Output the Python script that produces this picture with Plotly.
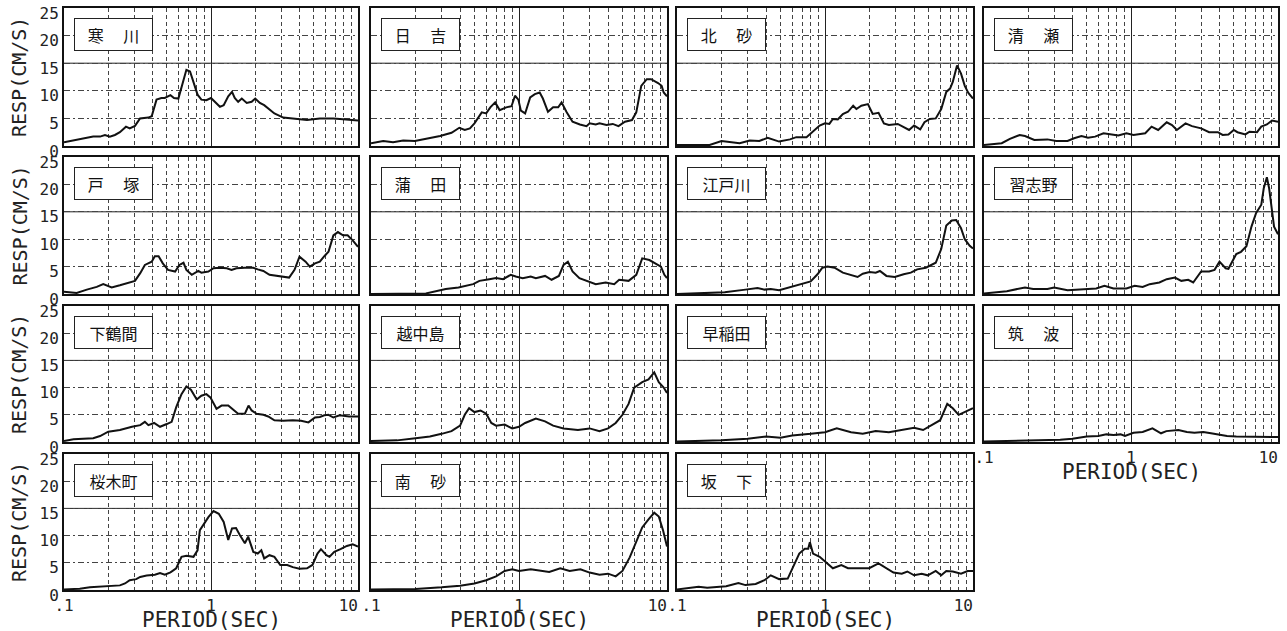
import plotly.graph_objects as go

# ---------------- data (period [s], response [cm/s]) ----------------
samukawa_p = [0.1, 0.128, 0.158, 0.176, 0.19, 0.205, 0.222, 0.24, 0.264, 0.28, 0.304, 0.329, 0.375, 0.395, 0.426, 0.46, 0.485, 0.53, 0.56, 0.6, 0.64, 0.68, 0.72, 0.76, 0.81, 0.86, 0.93, 1.0, 1.08, 1.15, 1.22, 1.31, 1.39, 1.45, 1.53, 1.62, 1.75, 1.89, 2.0, 2.15, 2.3, 2.5, 2.7, 3.1, 3.6, 4.5, 5.5, 6.8, 7.9, 10.0]
samukawa_v = [0.66, 1.26, 1.7, 1.7, 2.0, 1.7, 2.0, 2.5, 3.5, 3.2, 3.65, 5.0, 5.15, 5.4, 8.4, 8.7, 8.7, 9.2, 8.7, 8.6, 11.4, 13.8, 13.5, 11.7, 9.3, 8.4, 8.3, 8.7, 7.8, 7.1, 7.4, 9.0, 9.8, 8.7, 8.0, 8.6, 7.8, 8.0, 8.6, 7.8, 7.4, 6.6, 5.9, 5.15, 5.0, 4.7, 5.0, 5.0, 4.85, 4.6]

hiyoshi_p = [0.1, 0.121, 0.141, 0.165, 0.198, 0.237, 0.293, 0.35, 0.395, 0.43, 0.466, 0.5, 0.56, 0.6, 0.64, 0.69, 0.74, 0.82, 0.89, 0.94, 0.99, 1.03, 1.1, 1.19, 1.28, 1.38, 1.45, 1.57, 1.7, 1.84, 1.94, 2.1, 2.3, 2.58, 2.86, 3.0, 3.3, 3.5, 3.9, 4.3, 4.7, 5.2, 5.8, 6.2, 6.7, 7.3, 7.8, 8.7, 9.2, 9.5, 10.0]
hiyoshi_v = [0.5, 0.9, 0.7, 1.0, 0.9, 1.3, 1.8, 2.4, 3.3, 2.9, 3.2, 4.1, 6.1, 5.9, 7.0, 7.9, 6.5, 7.0, 7.2, 9.1, 8.4, 6.4, 5.9, 8.8, 9.4, 9.7, 8.6, 6.2, 7.0, 7.0, 7.9, 6.1, 4.4, 3.9, 3.6, 4.1, 3.9, 4.1, 3.8, 4.0, 3.6, 4.4, 4.7, 6.1, 10.9, 12.1, 12.1, 11.4, 10.9, 9.7, 9.0]

kitasuna_p = [0.1, 0.166, 0.2, 0.227, 0.265, 0.31, 0.36, 0.41, 0.49, 0.58, 0.64, 0.75, 0.83, 0.92, 1.0, 1.07, 1.13, 1.22, 1.32, 1.43, 1.55, 1.63, 1.76, 1.95, 2.1, 2.3, 2.5, 2.7, 3.1, 3.4, 3.7, 4.0, 4.4, 4.7, 5.1, 5.6, 6.1, 6.6, 7.0, 7.3, 7.8, 8.3, 8.8, 9.3, 10.0]
kitasuna_v = [0.2, 0.2, 0.9, 0.7, 0.5, 1.0, 0.9, 1.5, 0.8, 1.2, 1.6, 1.6, 2.7, 3.7, 4.1, 4.0, 4.9, 4.8, 5.8, 6.2, 7.3, 6.7, 7.3, 7.6, 5.8, 6.0, 4.1, 3.8, 4.0, 3.4, 2.9, 3.7, 3.0, 4.3, 4.9, 5.0, 6.7, 9.8, 10.4, 11.6, 14.6, 13.1, 10.9, 9.6, 8.6]

kiyose_p = [0.1, 0.132, 0.15, 0.175, 0.19, 0.22, 0.27, 0.31, 0.37, 0.41, 0.46, 0.51, 0.57, 0.65, 0.74, 0.82, 0.93, 1.04, 1.25, 1.38, 1.53, 1.75, 1.9, 2.05, 2.35, 2.6, 3.0, 3.4, 3.9, 4.2, 4.6, 5.0, 5.3, 6.0, 6.4, 7.2, 7.7, 8.4, 9.1, 10.0]
kiyose_v = [0.2, 0.5, 1.3, 2.0, 1.8, 1.1, 1.2, 0.9, 0.9, 1.4, 1.8, 1.5, 1.7, 2.3, 2.1, 1.9, 2.3, 2.0, 2.3, 3.5, 2.9, 4.3, 3.8, 2.9, 4.1, 3.6, 3.2, 2.5, 2.5, 2.0, 2.1, 2.9, 2.5, 2.1, 2.6, 2.5, 3.5, 3.9, 4.6, 4.4]

totsuka_p = [0.1, 0.122, 0.143, 0.167, 0.185, 0.195, 0.211, 0.24, 0.274, 0.304, 0.33, 0.355, 0.395, 0.415, 0.44, 0.47, 0.51, 0.57, 0.61, 0.65, 0.68, 0.74, 0.82, 0.86, 0.96, 1.04, 1.15, 1.28, 1.38, 1.49, 1.7, 1.94, 2.08, 2.27, 2.5, 2.9, 3.4, 3.7, 4.0, 4.4, 4.7, 5.1, 5.5, 5.9, 6.3, 6.8, 7.3, 7.9, 8.5, 9.2, 10.0]
totsuka_v = [0.4, 0.2, 0.8, 1.3, 1.8, 1.6, 1.2, 1.6, 2.1, 2.4, 3.8, 5.3, 5.9, 6.9, 6.9, 5.6, 4.4, 4.1, 5.3, 5.7, 4.4, 3.5, 4.2, 3.9, 4.1, 4.7, 4.8, 4.7, 4.4, 4.7, 4.8, 4.8, 4.5, 4.2, 3.5, 3.3, 3.0, 4.4, 6.8, 5.9, 5.0, 5.6, 5.9, 6.9, 7.7, 10.7, 11.3, 10.7, 10.7, 9.8, 8.6]

kamata_p = [0.1, 0.235, 0.32, 0.39, 0.49, 0.54, 0.63, 0.7, 0.78, 0.88, 0.95, 1.06, 1.2, 1.3, 1.5, 1.66, 1.86, 2.0, 2.14, 2.3, 2.56, 2.98, 3.3, 3.85, 4.4, 4.75, 5.5, 6.2, 6.8, 7.6, 8.4, 9.1, 9.6, 10.0]
kamata_v = [0.0, 0.1, 0.9, 1.2, 1.8, 2.4, 2.7, 2.9, 2.7, 3.5, 3.2, 2.9, 3.2, 2.9, 3.3, 2.6, 3.3, 5.3, 5.9, 4.1, 2.9, 2.3, 1.8, 2.1, 1.8, 2.6, 2.4, 3.5, 6.5, 6.2, 5.6, 5.0, 3.5, 2.9]

edogawa_p = [0.1, 0.21, 0.29, 0.35, 0.39, 0.43, 0.49, 0.57, 0.71, 0.8, 0.89, 0.96, 1.04, 1.16, 1.32, 1.5, 1.66, 1.8, 2.0, 2.2, 2.35, 2.6, 2.96, 3.4, 3.8, 4.2, 4.8, 5.6, 6.1, 6.6, 7.2, 7.7, 8.3, 8.8, 9.5, 10.0]
edogawa_v = [0.0, 0.3, 0.8, 1.1, 0.8, 0.9, 0.7, 1.2, 1.9, 2.3, 3.6, 4.8, 5.0, 4.8, 3.9, 3.4, 3.1, 3.7, 4.0, 3.9, 4.2, 3.3, 3.1, 3.6, 3.9, 4.5, 4.8, 5.7, 8.2, 12.5, 13.4, 13.5, 12.0, 10.0, 8.8, 8.3]

narashino_p = [0.1, 0.143, 0.19, 0.216, 0.27, 0.3, 0.37, 0.5, 0.58, 0.66, 0.76, 0.93, 1.06, 1.2, 1.34, 1.56, 1.75, 1.99, 2.2, 2.45, 2.65, 3.0, 3.4, 3.7, 4.0, 4.4, 4.6, 5.2, 5.6, 6.1, 6.6, 7.1, 7.7, 8.0, 8.4, 8.7, 9.1, 9.4, 10.0]
narashino_v = [0.1, 0.5, 1.2, 0.9, 0.9, 1.2, 0.7, 0.9, 1.0, 1.5, 1.0, 1.0, 1.5, 1.3, 1.8, 2.1, 2.7, 3.0, 2.4, 2.6, 2.1, 4.1, 4.1, 4.4, 5.9, 4.7, 4.6, 7.3, 7.7, 8.7, 12.3, 14.8, 16.3, 19.3, 21.3, 19.3, 15.7, 12.3, 10.9]

shimotsuruma_p = [0.1, 0.116, 0.158, 0.176, 0.2, 0.24, 0.29, 0.33, 0.355, 0.375, 0.41, 0.45, 0.5, 0.54, 0.58, 0.63, 0.68, 0.73, 0.8, 0.86, 0.93, 0.99, 1.09, 1.18, 1.31, 1.41, 1.53, 1.7, 1.8, 1.89, 2.04, 2.27, 2.45, 2.7, 3.1, 3.6, 4.1, 4.6, 5.1, 5.5, 5.9, 6.3, 6.8, 7.5, 8.7, 10.0]
shimotsuruma_v = [0.2, 0.5, 0.7, 1.1, 1.9, 2.2, 2.8, 3.1, 3.7, 3.1, 3.5, 2.8, 3.3, 3.7, 6.4, 8.8, 10.2, 9.6, 7.8, 8.5, 8.8, 8.2, 6.1, 6.7, 6.7, 5.9, 5.2, 5.2, 6.7, 5.8, 5.2, 5.0, 4.7, 4.0, 3.9, 4.0, 3.9, 3.6, 4.5, 4.6, 4.9, 5.0, 4.5, 4.9, 4.7, 4.7]

etchujima_p = [0.1, 0.15, 0.2, 0.25, 0.3, 0.35, 0.4, 0.43, 0.46, 0.5, 0.55, 0.6, 0.65, 0.7, 0.8, 0.9, 1.0, 1.1, 1.3, 1.5, 1.7, 2.0, 2.5, 3.0, 3.5, 4.0, 4.5, 5.0, 5.5, 6.0, 6.8, 7.5, 8.2, 8.8, 9.5, 10.0]
etchujima_v = [0.2, 0.3, 0.7, 1.0, 1.5, 2.0, 3.0, 5.0, 6.2, 5.5, 5.8, 5.2, 3.5, 3.0, 3.2, 2.5, 2.8, 3.5, 4.3, 3.8, 3.0, 2.5, 2.2, 2.5, 2.0, 2.5, 3.5, 5.0, 7.0, 10.0, 11.0, 11.5, 12.8, 11.0, 10.0, 9.0]

waseda_p = [0.1, 0.2, 0.3, 0.4, 0.5, 0.6, 0.8, 1.0, 1.2, 1.5, 1.8, 2.2, 2.7, 3.2, 4.0, 4.6, 5.2, 6.0, 6.7, 7.3, 8.0, 8.8, 9.5, 10.0]
waseda_v = [0.1, 0.3, 0.6, 1.0, 0.8, 1.2, 1.5, 1.8, 2.5, 1.8, 1.5, 2.0, 1.8, 2.2, 2.6, 2.2, 3.0, 4.0, 7.0, 6.2, 5.0, 5.5, 6.0, 6.2]

tsukuba_p = [0.1, 0.33, 0.4, 0.5, 0.6, 0.68, 0.76, 0.85, 0.91, 1.04, 1.2, 1.4, 1.6, 1.74, 2.1, 2.4, 2.7, 3.1, 3.5, 3.9, 4.5, 5.2, 6.4, 7.5, 10.0]
tsukuba_v = [0.1, 0.4, 0.6, 1.0, 1.1, 1.4, 1.3, 1.4, 1.1, 1.7, 1.85, 2.5, 1.6, 2.0, 2.2, 1.85, 1.7, 1.85, 1.6, 1.4, 1.1, 1.0, 1.0, 0.9, 0.9]

sakuragicho_p = [0.1, 0.128, 0.15, 0.176, 0.216, 0.24, 0.26, 0.28, 0.31, 0.33, 0.365, 0.415, 0.45, 0.485, 0.53, 0.58, 0.63, 0.68, 0.76, 0.81, 0.84, 0.9, 0.96, 1.04, 1.13, 1.22, 1.31, 1.39, 1.48, 1.57, 1.7, 1.79, 1.94, 2.08, 2.2, 2.3, 2.5, 2.7, 2.96, 3.3, 3.6, 4.0, 4.5, 4.9, 5.3, 5.6, 6.1, 6.4, 6.9, 7.6, 8.4, 9.2, 10.0]
sakuragicho_v = [0.1, 0.25, 0.5, 0.6, 0.7, 0.85, 1.2, 1.8, 2.0, 2.4, 2.65, 2.8, 3.1, 2.8, 3.25, 4.0, 6.1, 6.3, 6.1, 7.3, 11.0, 12.2, 13.4, 14.5, 14.0, 12.5, 9.2, 11.3, 11.4, 10.1, 8.6, 9.8, 7.0, 6.7, 7.3, 5.8, 6.4, 6.1, 4.6, 4.6, 4.2, 3.9, 4.0, 4.6, 6.7, 7.5, 6.4, 6.1, 7.0, 7.5, 8.1, 8.4, 8.0]

minamisuna_p = [0.1, 0.2, 0.3, 0.4, 0.5, 0.6, 0.7, 0.8, 0.9, 1.0, 1.2, 1.4, 1.6, 1.9, 2.2, 2.6, 3.0, 3.5, 4.0, 4.5, 5.0, 5.6, 6.2, 6.8, 7.5, 8.2, 8.8, 9.4, 10.0]
minamisuna_v = [0.1, 0.2, 0.5, 0.8, 1.2, 1.8, 2.5, 3.5, 3.8, 3.5, 3.8, 3.6, 3.3, 4.0, 3.5, 3.8, 3.2, 2.8, 3.0, 2.5, 3.5, 6.0, 9.0, 11.5, 13.0, 14.2, 13.5, 11.0, 8.0]

sakashita_p = [0.1, 0.14, 0.16, 0.215, 0.26, 0.29, 0.34, 0.39, 0.43, 0.49, 0.56, 0.62, 0.67, 0.73, 0.77, 0.79, 0.83, 0.92, 1.03, 1.13, 1.29, 1.43, 1.71, 1.99, 2.3, 2.5, 2.9, 3.3, 3.6, 4.0, 4.5, 4.95, 5.6, 6.1, 6.6, 7.3, 8.3, 9.2, 10.0]
sakashita_v = [0.1, 0.6, 0.4, 0.7, 1.3, 0.9, 1.1, 1.8, 2.7, 2.0, 2.1, 4.9, 6.7, 7.6, 7.6, 8.8, 6.7, 6.1, 4.9, 4.0, 4.6, 4.0, 4.0, 4.0, 4.9, 4.3, 3.2, 3.0, 3.4, 2.7, 3.0, 2.7, 3.5, 2.7, 3.5, 3.4, 3.0, 3.5, 3.5]

station_names = ["寒　 川", "日　 吉", "北　 砂", "清　 瀬",
                 "戸　 塚", "蒲　 田", "江戸川", "習志野",
                 "下鶴間", "越中島", "早稲田", "筑　 波",
                 "桜木町", "南　 砂", "坂　 下"]
station_periods = [samukawa_p, hiyoshi_p, kitasuna_p, kiyose_p,
                   totsuka_p, kamata_p, edogawa_p, narashino_p,
                   shimotsuruma_p, etchujima_p, waseda_p, tsukuba_p,
                   sakuragicho_p, minamisuna_p, sakashita_p]
station_values = [samukawa_v, hiyoshi_v, kitasuna_v, kiyose_v,
                  totsuka_v, kamata_v, edogawa_v, narashino_v,
                  shimotsuruma_v, etchujima_v, waseda_v, tsukuba_v,
                  sakuragicho_v, minamisuna_v, sakashita_v]

x_tickvals = [0.1, 1, 10]
x_ticktext = [".1", "1", "10\u00a0\u00a0"]
y_tickvals = [0, 5, 10, 15, 20, 25]
y_ticktext = ["0", "5", "10", "15", "20", "25"]
x_title = "PERIOD(SEC)"
y_title = "RESP(CM/S)"

# ---------------- layout geometry (pixels) ----------------
W, H = 1287, 631
col_px = [(64, 358), (371, 667), (677, 973), (984, 1278)]
row_px = [(8, 146), (157, 294), (306, 442), (454, 590)]

def px_x(v):
    return v / W

def px_y(v):
    return 1 - v / H

mono = "DejaVu Sans Mono"
grid_col = "#444"

fig = go.Figure()
layout = dict(
    width=W, height=H,
    margin=dict(l=0, r=0, t=0, b=0, pad=0, autoexpand=False),
    paper_bgcolor="white", plot_bgcolor="white",
    showlegend=False,
)
annotations = []
shapes = []

n_st = len(station_names)
bottom_index = {}
for k in range(n_st):
    bottom_index[k % 4] = k

for k in range(n_st):
    r, c = divmod(k, 4)
    n = k + 1
    xa = "xaxis" if n == 1 else f"xaxis{n}"
    ya = "yaxis" if n == 1 else f"yaxis{n}"
    xr = "x" if n == 1 else f"x{n}"
    yr = "y" if n == 1 else f"y{n}"
    x0, x1 = col_px[c]
    y0, y1 = row_px[r]
    is_bottom = bottom_index[c] == k
    layout[xa] = dict(
        type="log", range=[-1, 1], domain=[px_x(x0), px_x(x1)], anchor=yr,
        automargin=False, ticklabeloverflow="allow",
        tickvals=x_tickvals, ticktext=x_ticktext, showticklabels=is_bottom,
        tickfont=dict(family=mono, size=16, color="#222"), ticks="",
        showgrid=True, gridcolor="#222", gridwidth=1,
        minor=dict(dtick="D1", showgrid=True, gridcolor=grid_col, gridwidth=1, griddash="4px,3px"),
        showline=True, mirror=True, linecolor="#111", linewidth=2, zeroline=False,
    )
    layout[ya] = dict(
        range=[0, 25], domain=[px_y(y1), px_y(y0)], anchor=xr,
        automargin=False, ticklabeloverflow="allow",
        tickvals=y_tickvals, ticktext=y_ticktext, showticklabels=(c == 0),
        tickfont=dict(family=mono, size=16, color="#222"), ticks="", ticklabelshift=5,
        showgrid=True, gridcolor=grid_col, gridwidth=1, griddash="6px,3px,2px,3px",
        showline=True, mirror=True, linecolor="#111", linewidth=2, zeroline=False,
    )
    fig.add_trace(go.Scatter(
        x=station_periods[k], y=station_values[k], mode="lines",
        line=dict(color="#111", width=2), xaxis=xr, yaxis=yr, hoverinfo="x+y",
    ))
    # solid reference line at 15
    shapes.append(dict(type="line", xref=f"{xr} domain", yref=yr, x0=0, x1=1, y0=15, y1=15,
                       line=dict(color="#222", width=1), layer="below"))
    # station name box
    annotations.append(dict(
        text=station_names[k], xref="paper", yref="paper",
        x=px_x(x0 + 10), y=px_y(y0 + 10), xanchor="left", yanchor="top",
        showarrow=False, width=75, height=29, align="center",
        bordercolor="#222", borderwidth=1, borderpad=1, bgcolor="white",
        font=dict(family="Noto Sans CJK JP", size=16, color="#111"),
    ))
    if c == 0:
        annotations.append(dict(
            text=y_title, xref="paper", yref="paper",
            x=px_x(19), y=px_y((y0 + y1) / 2), xanchor="center", yanchor="middle",
            textangle=-90, showarrow=False,
            font=dict(family=mono, size=20, color="#222"),
        ))
    if is_bottom:
        annotations.append(dict(
            text=x_title, xref="paper", yref="paper",
            x=px_x((x0 + x1) / 2), y=px_y(y1 + 30), xanchor="center", yanchor="middle",
            showarrow=False, font=dict(family=mono, size=21, color="#222"),
        ))

layout["annotations"] = annotations
layout["shapes"] = shapes
fig.update_layout(**layout)
fig.write_html("out.html", config={"displayModeBar": False},
               post_script="document.body.style.margin='0px';")
